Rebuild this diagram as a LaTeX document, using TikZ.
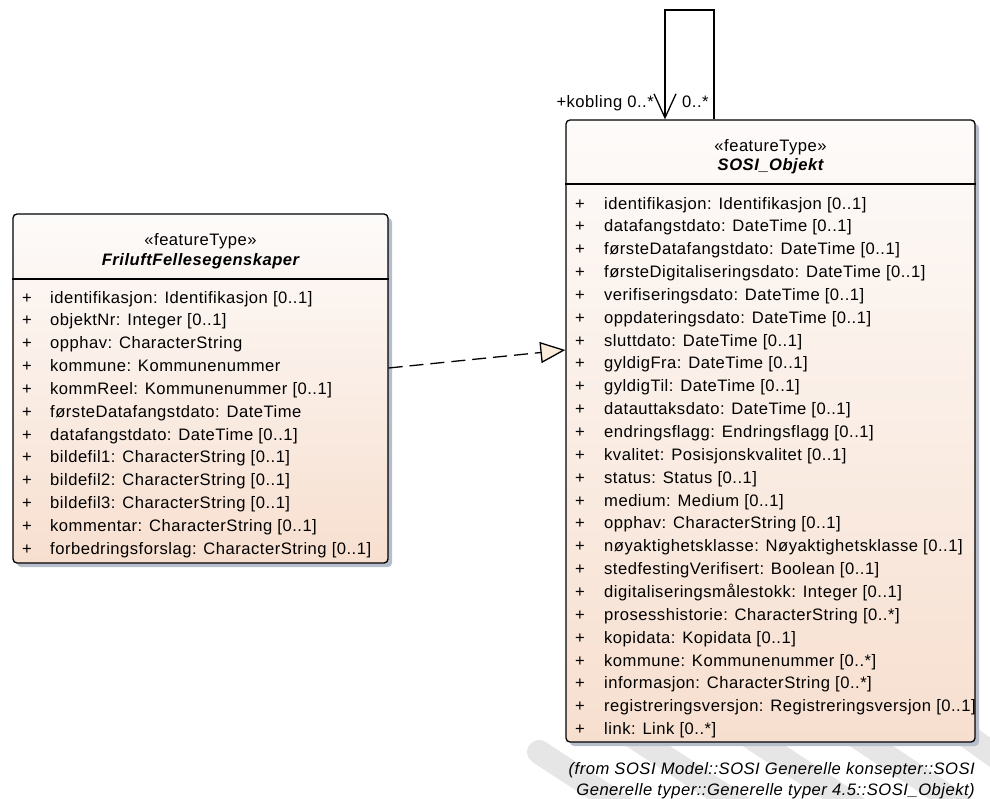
\documentclass[tikz,border=0pt]{standalone}
\usepackage{fontspec}
\setmainfont{Liberation Sans}[LetterSpace=3]
\usetikzlibrary{arrows.meta,shadows}
\definecolor{boxtop}{HTML}{FDFBFA}
\definecolor{boxbot}{HTML}{F7DFCF}
\definecolor{shadowc}{HTML}{B6BECC}
\definecolor{tri}{HTML}{FBEBD8}
\definecolor{wm}{HTML}{E6E6E6}
\tikzset{
  classbox/.style={rectangle, rounded corners=4pt, draw=black, line width=1.3pt,
    top color=boxtop, bottom color=boxbot,
    drop shadow={shadow xshift=4pt, shadow yshift=-4pt, fill=shadowc, opacity=1}},
  attr/.style={anchor=base west, inner sep=0pt, font=\fontsize{16.6}{18}\selectfont},
  plus/.style={anchor=base west, inner sep=0pt, font=\fontsize{16.6}{18}\selectfont},
  stereo/.style={anchor=base, inner sep=0pt, font=\fontsize{16.6}{18}\selectfont},
  cname/.style={anchor=base, inner sep=0pt, font=\fontsize{16.6}{18}\selectfont\bfseries\itshape},
  lbl/.style={inner sep=0pt, font=\fontsize{16.6}{18}\selectfont},
  note/.style={anchor=base east, inner sep=0pt, font=\fontsize{16.6}{18}\selectfont\itshape},
  sep/.style={line width=1.3pt},
  band/.style={wm, line width=24pt, line cap=round}
}
\begin{document}
\begin{tikzpicture}[x=1pt,y=-1pt]
\useasboundingbox (0,0) rectangle (990,798);
% watermark bands
\draw[band] (539,752) -- (640,818);
\draw[band] (605,718) -- (740,806);
\draw[band] (710,710) -- (855,806);
\draw[band] (820,712) -- (962,806);
\draw[band] (945,720) -- (1065,806);

% classes
\node[classbox, minimum width=375pt, minimum height=349pt] (fril) at (200.5,388.5) {};
\node[classbox, minimum width=409pt, minimum height=622pt] (sosi) at (770.5,431) {};

\draw[sep] (fril.west |- 0,279) -- (fril.east |- 0,279);
\draw[sep] (sosi.west |- 0,184) -- (sosi.east |- 0,184);

% headers
\node[stereo] (fst) at (200.5,245) {«featureType»};
\node[cname] (fnm) at (200.5,265) {FriluftFellesegenskaper};
\node[stereo] (sst) at (770.5,151) {«featureType»};
\node[cname] (snm) at (770.5,170) {SOSI\_Objekt};

% left attributes
\foreach \t [count=\i from 0] in {
  identifikasjon: Identifikasjon [0..1],
  objektNr: Integer [0..1],
  opphav: CharacterString,
  kommune: Kommunenummer,
  kommReel: Kommunenummer [0..1],
  førsteDatafangstdato: DateTime,
  datafangstdato: DateTime [0..1],
  bildefil1: CharacterString [0..1],
  bildefil2: CharacterString [0..1],
  bildefil3: CharacterString [0..1],
  kommentar: CharacterString [0..1],
  forbedringsforslag: CharacterString [0..1]}{
  \node[plus] (lp\i) at (22,303+\i*22.85) {+};
  \node[attr] (la\i) at (50,303+\i*22.85) {\t};
}

% right attributes
\foreach \t [count=\i from 0] in {
  identifikasjon: Identifikasjon [0..1],
  datafangstdato: DateTime [0..1],
  førsteDatafangstdato: DateTime [0..1],
  førsteDigitaliseringsdato: DateTime [0..1],
  verifiseringsdato: DateTime [0..1],
  oppdateringsdato: DateTime [0..1],
  sluttdato: DateTime [0..1],
  gyldigFra: DateTime [0..1],
  gyldigTil: DateTime [0..1],
  datauttaksdato: DateTime [0..1],
  endringsflagg: Endringsflagg [0..1],
  kvalitet: Posisjonskvalitet [0..1],
  status: Status [0..1],
  medium: Medium [0..1],
  opphav: CharacterString [0..1],
  nøyaktighetsklasse: Nøyaktighetsklasse [0..1],
  stedfestingVerifisert: Boolean [0..1],
  digitaliseringsmålestokk: Integer [0..1],
  prosesshistorie: CharacterString [0..*],
  kopidata: Kopidata [0..1],
  kommune: Kommunenummer [0..*],
  informasjon: CharacterString [0..*],
  registreringsversjon: Registreringsversjon [0..1],
  link: Link [0..*]}{
  \node[plus] (rp\i) at (575,209+\i*22.85) {+};
  \node[attr] (ra\i) at (604,209+\i*22.85) {\t};
}

% realization (generalization) dashed connector
\draw[line width=1.3pt, dash pattern=on 14pt off 7pt,
  -{Triangle[length=25pt, width=21pt, fill=tri]}]
  (fril.east |- 0,368) -- (sosi.west |- 0,350);

% self association
\coordinate (tl) at (665,10);
\coordinate (tr) at (714,10);
\draw[line width=1.3pt, -{Straight Barb[length=24pt, width=22pt]}]
  (sosi.north -| tr) -- (tr) -- (tl) -- (sosi.north -| tl);
\node[lbl, anchor=base east] (kob) at (654,107) {+kobling 0..*};
\node[lbl, anchor=base west] (mul) at (682,107) {0..*};

% note
\node[note] (n1) at (975,774) {(from SOSI Model::SOSI Generelle konsepter::SOSI};
\node[note] (n2) at (975,795) {Generelle typer::Generelle typer 4.5::SOSI\_Objekt)};
\end{tikzpicture}
\end{document}
